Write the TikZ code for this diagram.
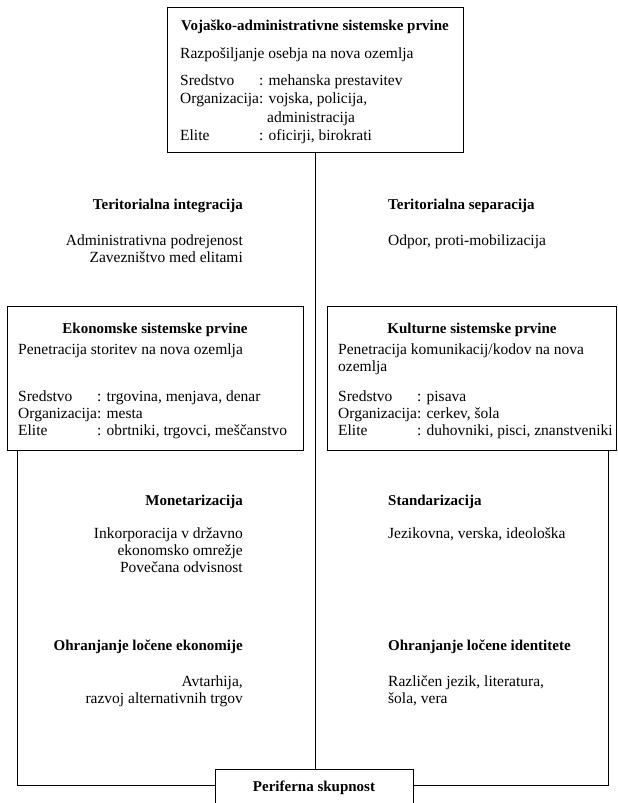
\documentclass[tikz,border=0pt]{standalone}
\usepackage{fontspec}
\setmainfont{Liberation Serif}
\begin{document}
\begin{tikzpicture}[x=1pt,y=-1pt,
  box/.style={draw, line width=0.9pt, rectangle, inner sep=0pt, anchor=north west},
  txt/.style={inner sep=0pt, anchor=base west, font=\fontsize{15.5}{17}\selectfont},
  txtr/.style={txt, anchor=base east},
  hd/.style={inner sep=0pt, anchor=base, font=\fontsize{15}{17}\selectfont\bfseries},
  hdl/.style={hd, anchor=base west},
  hdr/.style={hd, anchor=base east},
  conn/.style={line width=0.9pt}]
\path[use as bounding box] (0,0) rectangle (618,803);

% boxes
\node[box, minimum width=296pt, minimum height=145pt] (top) at (167,7) {};
\node[box, minimum width=296pt, minimum height=144pt] (lbox) at (7,306) {};
\node[box, minimum width=289pt, minimum height=144pt] (rbox) at (327,306) {};
\node[box, minimum width=198pt, minimum height=45pt] (bot) at (215,769) {};

% top box text
\node[hd] (t0) at (315,30) {Vojaško-administrativne sistemske prvine};
\node[txt] (t1) at (180,58) {Razpošiljanje osebja na nova ozemlja};
\node[txt] (t2a) at (180,85) {Sredstvo};
\node[txt] (t2b) at (259,85) {: mehanska prestavitev};
\node[txt] (t3) at (180,103) {Organizacija: vojska, policija,};
\node[txt] (t4) at (267,122) {administracija};
\node[txt] (t5a) at (180,140) {Elite};
\node[txt] (t5b) at (259,140) {: oficirji, birokrati};

% left box text
\node[hd] (l0) at (155,333) {Ekonomske sistemske prvine};
\node[txt] (l1) at (18,354) {Penetracija storitev na nova ozemlja};
\node[txt] (l2a) at (18,401) {Sredstvo};
\node[txt] (l2b) at (97,401) {: trgovina, menjava, denar};
\node[txt] (l3) at (18,418) {Organizacija: mesta};
\node[txt] (l4a) at (18,435) {Elite};
\node[txt] (l4b) at (97,435) {: obrtniki, trgovci, meščanstvo};

% right box text
\node[hd] (r0) at (472,333) {Kulturne sistemske prvine};
\node[txt] (r1) at (338,354) {Penetracija komunikacij/kodov na nova};
\node[txt] (r1b) at (338,371) {ozemlja};
\node[txt] (r2a) at (338,401) {Sredstvo};
\node[txt] (r2b) at (417,401) {: pisava};
\node[txt] (r3) at (338,418) {Organizacija: cerkev, šola};
\node[txt] (r4a) at (338,435) {Elite};
\node[txt] (r4b) at (417,435) {: duhovniki, pisci, znanstveniki};

% free labels, left column
\node[hdr] (a0) at (243,209) {Teritorialna integracija};
\node[txtr] (a1) at (243,245) {Administrativna podrejenost};
\node[txtr] (a2) at (243,262) {Zavezništvo med elitami};
\node[hdr] (b0) at (243,505) {Monetarizacija};
\node[txtr] (b1) at (243,538) {Inkorporacija v državno};
\node[txtr] (b2) at (243,555) {ekonomsko omrežje};
\node[txtr] (b3) at (243,572) {Povečana odvisnost};
\node[hdr] (c0) at (243,650) {Ohranjanje ločene ekonomije};
\node[txtr] (c1) at (243,686) {Avtarhija,};
\node[txtr] (c2) at (243,703) {razvoj alternativnih trgov};

% free labels, right column
\node[hdl] (d0) at (388,209) {Teritorialna separacija};
\node[txt] (d1) at (388,245) {Odpor, proti-mobilizacija};
\node[hdl] (e0) at (388,505) {Standarizacija};
\node[txt] (e1) at (388,538) {Jezikovna, verska, ideološka};
\node[hdl] (f0) at (388,650) {Ohranjanje ločene identitete};
\node[txt] (f1) at (388,686) {Različen jezik, literatura,};
\node[txt] (f2) at (388,703) {šola, vera};

% bottom box text
\node[hd] (p0) at (314,791) {Periferna skupnost};

% connectors
\coordinate (lc) at (17,785);
\coordinate (rc) at (608,785);
\draw[conn] (top.south) -- (top.south |- bot.north);
\draw[conn] (lc |- lbox.south) -- (lc) -- (lc -| bot.west);
\draw[conn] (rc |- rbox.south) -- (rc) -- (rc -| bot.east);
\end{tikzpicture}
\end{document}
